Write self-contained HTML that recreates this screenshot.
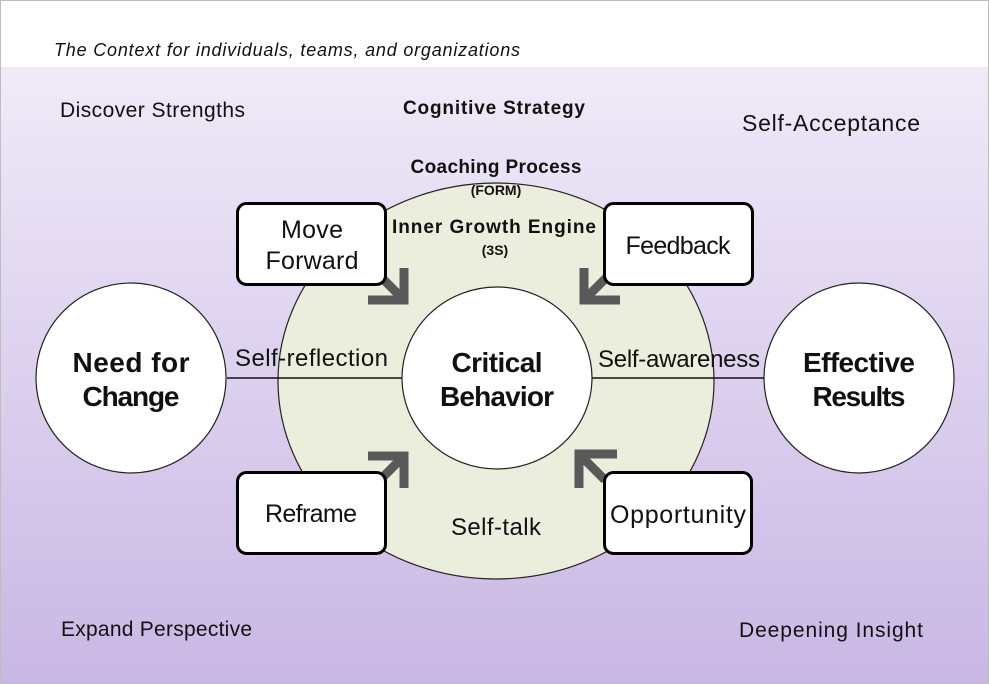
<!DOCTYPE html>
<html><head><meta charset="utf-8"><style>
html,body{margin:0;padding:0;width:989px;height:684px;overflow:hidden;background:#fff}
svg{display:block}
text{font-family:"Liberation Sans",sans-serif;fill:#111}
</style></head><body>
<svg width="989" height="684" viewBox="0 0 989 684" xmlns="http://www.w3.org/2000/svg">
<defs>
<linearGradient id="bg" x1="0" y1="0" x2="0" y2="1">
<stop offset="0" stop-color="#f0eaf8"/>
<stop offset="1" stop-color="#c8b7e4"/>
</linearGradient>
</defs>
<rect x="0" y="0" width="989" height="684" fill="#fff"/>
<rect x="1" y="67" width="987" height="617" fill="url(#bg)"/>
<rect x="0.5" y="0.5" width="988" height="683" fill="none" stroke="#bdbdbd"/>
<text x="54" y="56" font-size="18" font-style="italic" textLength="466">The Context for individuals, teams, and organizations</text>

<text x="60" y="117" font-size="21" textLength="185">Discover Strengths</text>
<text x="742" y="131" font-size="23" textLength="178">Self-Acceptance</text>
<text x="61" y="636" font-size="21" textLength="191">Expand Perspective</text>
<text x="739" y="637" font-size="21" textLength="184">Deepening Insight</text>

<text x="494" y="114" font-size="19" font-weight="bold" text-anchor="middle" textLength="182">Cognitive Strategy</text>
<text x="496" y="173" font-size="19" font-weight="bold" text-anchor="middle" textLength="171">Coaching Process</text>

<ellipse cx="496" cy="381" rx="218" ry="198" fill="#ebeedd" stroke="#222" stroke-width="1.2"/>
<text x="496" y="195" font-size="14" font-weight="bold" text-anchor="middle">(FORM)</text>
<text x="494" y="233" font-size="19" font-weight="bold" text-anchor="middle" textLength="204">Inner Growth Engine</text>
<text x="495" y="255" font-size="14" font-weight="bold" text-anchor="middle">(3S)</text>

<line x1="227" y1="378" x2="764" y2="378" stroke="#111" stroke-width="1.5"/>

<circle cx="131" cy="378" r="95" fill="#fff" stroke="#222" stroke-width="1.2"/>
<circle cx="859" cy="378" r="95" fill="#fff" stroke="#222" stroke-width="1.2"/>
<ellipse cx="497" cy="378" rx="95" ry="91" fill="#fff" stroke="#222" stroke-width="1.2"/>

<text x="131" y="372" font-size="28" font-weight="bold" text-anchor="middle" textLength="117">Need for</text>
<text x="131" y="406" font-size="28" font-weight="bold" text-anchor="middle" textLength="97">Change</text>
<text x="859" y="372" font-size="28" font-weight="bold" text-anchor="middle" textLength="112">Effective</text>
<text x="859" y="406" font-size="28" font-weight="bold" text-anchor="middle" textLength="93">Results</text>
<text x="497" y="372" font-size="28" font-weight="bold" text-anchor="middle" textLength="91">Critical</text>
<text x="497" y="406" font-size="28" font-weight="bold" text-anchor="middle" textLength="114">Behavior</text>

<text x="235" y="366" font-size="24" textLength="153">Self-reflection</text>
<text x="598" y="367" font-size="24" textLength="162">Self-awareness</text>
<text x="496" y="535" font-size="24" text-anchor="middle" textLength="90">Self-talk</text>

<g stroke="#595959" stroke-width="9" fill="none" stroke-linecap="butt" stroke-linejoin="miter">
<polyline points="404,268 404,300 368,300"/><line x1="404" y1="300" x2="380" y2="276"/>
<polyline points="584,268 584,300 620,300"/><line x1="584" y1="300" x2="608" y2="276"/>
<polyline points="368,456 404,456 404,488"/><line x1="404" y1="456" x2="380" y2="480"/>
<polyline points="617,454 579,454 579,488"/><line x1="579" y1="454" x2="605" y2="480"/>
</g>

<g fill="#fff" stroke="#000" stroke-width="3">
<rect x="237.5" y="203.5" width="148" height="81" rx="9"/>
<rect x="604.5" y="203.5" width="148" height="81" rx="9"/>
<rect x="237.5" y="472.5" width="148" height="81" rx="9"/>
<rect x="604.5" y="472.5" width="147" height="81" rx="9"/>
</g>
<text x="312" y="238" font-size="25" text-anchor="middle" textLength="62">Move</text>
<text x="312" y="269" font-size="25" text-anchor="middle" textLength="93">Forward</text>
<text x="678" y="254" font-size="25" text-anchor="middle" textLength="105">Feedback</text>
<text x="311" y="522" font-size="25" text-anchor="middle" textLength="92">Reframe</text>
<text x="678" y="523" font-size="25" text-anchor="middle" textLength="136">Opportunity</text>
</svg>
</body></html>
